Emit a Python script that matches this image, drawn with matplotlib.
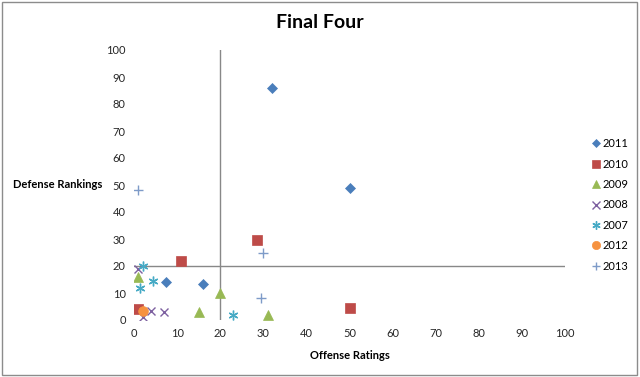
import matplotlib
matplotlib.use("Agg")

import matplotlib.pyplot as plt
from matplotlib.patches import Rectangle

plt.rcParams["font.family"] = ["Lato", "DejaVu Sans"]

# Offense rating (x) / defense ranking (y) of each Final Four team
years = ["2011", "2010", "2009", "2008", "2007", "2012", "2013"]
offense = {
    "2011": [32, 50, 7.5, 16],
    "2010": [11, 28.5, 50, 1],
    "2009": [1, 20, 15, 31],
    "2008": [1, 2, 4, 7],
    "2007": [2, 1.5, 4.5, 23],
    "2012": [2],
    "2013": [1, 30, 29.5],
}
defense = {
    "2011": [86, 49, 14, 13.5],
    "2010": [22, 29.5, 4.5, 4],
    "2009": [16, 10, 3, 2],
    "2008": [19, 1, 3.5, 3],
    "2007": [20, 12, 14.5, 2],
    "2012": [3.5],
    "2013": [48, 25, 8],
}

styles = {
    "2011": dict(marker="D", color="#4A7EBB", ms=5),
    "2010": dict(marker="s", color="#BE4B48", ms=7),
    "2009": dict(marker="^", color="#98B954", ms=7),
    "2008": dict(marker="x", color="#7D60A0", ms=6, mew=1),
    "2007": dict(marker=(6, 2, 0), color="#46AAC5", ms=7, mew=1),
    "2012": dict(marker="o", color="#F69240", ms=7),
    "2013": dict(marker="+", color="#7E9BC8", ms=7, mew=1),
}

fig = plt.figure(figsize=(6.4, 3.77), dpi=100)
ax = fig.add_axes([134 / 640, 57 / 377, 431 / 640, 270 / 377])

for y in years:
    st = styles[y]
    ax.plot(offense[y], defense[y], linestyle="none", marker=st["marker"],
            color=st["color"], markersize=st["ms"],
            markeredgewidth=st.get("mew", 0.5), label=y)

# axes cross at 20 / 20
ax.axvline(20, color="#888888", linewidth=1, zorder=0)
ax.axhline(20, color="#888888", linewidth=1, zorder=0)

ax.set_xlim(0, 100)
ax.set_ylim(0, 100)
ax.set_xticks(range(0, 101, 10))
ax.set_yticks(range(0, 101, 10))
ax.tick_params(length=0, labelsize=8, colors="#262626", pad=6)
for s in ax.spines.values():
    s.set_visible(False)
ax.set_facecolor("none")

ax.set_xlabel("Offense Ratings", fontsize=8, fontweight="bold", labelpad=8)
fig.text(102 / 640, 1 - 185 / 377, "Defense Rankings", ha="right", va="center",
         fontsize=8, fontweight="bold")

fig.text(0.5, 1 - 23 / 377, "Final Four", ha="center", va="center",
         fontsize=14, fontweight="bold")

fig.legend(loc="center left", bbox_to_anchor=(586 / 640, 1 - 205 / 377),
           frameon=False, fontsize=8, handletextpad=0.1, labelspacing=0.85,
           handlelength=1.0, borderaxespad=0, markerscale=0.85)

fig.patches.append(Rectangle((0.003, 0.004), 0.992, 0.99, transform=fig.transFigure,
                             fill=False, edgecolor="#8c8c8c", linewidth=1))

fig.savefig("out.png", dpi=100)
